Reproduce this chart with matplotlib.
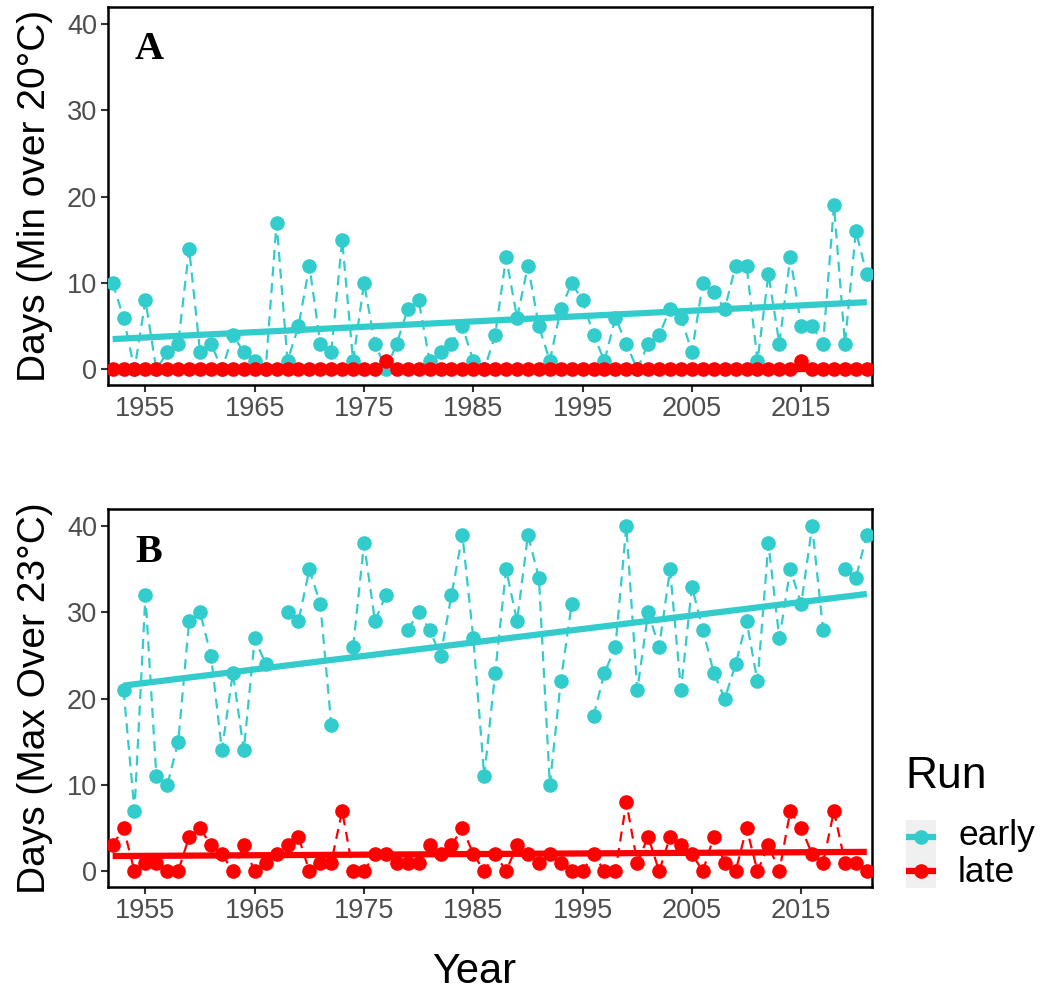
import matplotlib
matplotlib.use("Agg")
import matplotlib.pyplot as plt
from matplotlib.lines import Line2D
import numpy as np

plt.rcParams['font.family'] = ['Liberation Sans', 'DejaVu Sans']

years = np.arange(1952, 2022)
nan = np.nan

# panel A: days with min temp over 20C
early_min = [10, 6, 0, 8, 0, 2, 3, 14, 2, 3, 0, 4, 2, 1, 0, 17, 1, 5, 12, 3,
             2, 15, 1, 10, 3, 0, 3, 7, 8, 1, 2, 3, 5, 1, 0, 4, 13, 6, 12, 5,
             1, 7, 10, 8, 4, 1, 6, 3, 0, 3, 4, 7, 6, 2, 10, 9, 7, 12, 12, 1,
             11, 3, 13, 5, 5, 3, 19, 3, 16, 11]
late_min = [0] * 70
late_min[1977 - 1952] = 1
late_min[2015 - 1952] = 1

# panel B: days with max temp over 23C
early_max = [nan, 21, 7, 32, 11, 10, 15, 29, 30, 25, 14, 23, 14, 27, 24, nan, 30, 29, 35, 31,
             17, nan, 26, 38, 29, 32, nan, 28, 30, 28, 25, 32, 39, 27, 11, 23, 35, 29, 39, 34,
             10, 22, 31, nan, 18, 23, 26, 40, 21, 30, 26, 35, 21, 33, 28, 23, 20, 24, 29, 22,
             38, 27, 35, 31, 40, 28, nan, 35, 34, 39]
late_max = [3, 5, 0, 1, 1, 0, 0, 4, 5, 3, 2, 0, 3, 0, 1, 2, 3, 4, 0, 1,
            1, 7, 0, 0, 2, 2, 1, 1, 1, 3, 2, 3, 5, 2, 0, 2, 0, 3, 2, 1,
            2, 1, 0, 0, 2, 0, 0, 8, 1, 4, 0, 4, 3, 2, 0, 4, 1, 0, 5, 0,
            3, 0, 7, 5, 2, 1, 7, 1, 1, 0]

runs = ["early", "late"]
colors = {"early": "#33CCCC", "late": "#FF0000"}

fig = plt.figure(figsize=(10.43, 9.97), dpi=100)
axA = fig.add_axes([0.1038, 0.6138, 0.7325, 0.3795])
axB = fig.add_axes([0.1038, 0.1106, 0.7325, 0.3789])


def draw_panel(ax, series, letter, ylabel):
    for run, vals in zip(runs, series):
        y = np.array(vals, dtype=float)
        c = colors[run]
        ax.plot(years, y, ls=(0, (4.5, 3)), lw=1.6, color=c, zorder=2)
        ax.plot(years, y, 'o', ms=9.5, color=c, zorder=3)
        ok = ~np.isnan(y)
        k, b = np.polyfit(years[ok], y[ok], 1)
        xs = np.array([years[ok][0], years[ok][-1]])
        ax.plot(xs, k * xs + b, lw=4.5, color=c, zorder=2.5, solid_capstyle='butt')
    ax.set_xlim(1951.6, 2021.5)
    ax.set_ylim(-1.8, 42)
    ax.set_xticks(range(1955, 2021, 10))
    ax.set_yticks(range(0, 41, 10))
    ax.tick_params(labelsize=19.5, labelcolor='#4D4D4D', color='#333333',
                   length=5, width=1.5, pad=3)
    for s in ax.spines.values():
        s.set_linewidth(1.8)
    ax.text(0.035, 0.935, letter, transform=ax.transAxes, fontsize=29,
            fontweight='bold', family=['Liberation Serif', 'DejaVu Serif'],
            va='top', ha='left')
    ax.set_ylabel(ylabel, fontsize=28, labelpad=10)


draw_panel(axA, [early_min, late_min], "A", "Days (Min over 20°C)")
draw_panel(axB, [early_max, late_max], "B", "Days (Max Over 23°C)")

fig.text(0.455, 0.025, "Year", fontsize=30, ha='center', va='center')

# legend
fig.text(0.868, 0.221, "Run", fontsize=32, ha='left', va='center')
kax = fig.add_axes([906 / 1043, 1 - 888 / 997, 30 / 1043, 68 / 997])
kax.set_facecolor('#F0F0F0')
kax.set_xlim(0, 1)
kax.set_ylim(0, 2)
kax.set_xticks([])
kax.set_yticks([])
for s in kax.spines.values():
    s.set_visible(False)
for i, run in enumerate(runs):
    yk = 1.5 - i
    kax.add_line(Line2D([0.1, 0.9], [yk, yk], color=colors[run], lw=4.5))
    kax.plot(0.5, yk, 'o', ms=9.5, color=colors[run])
    fig.text(958 / 1043, 1 - (835 + i * 37) / 997, run, fontsize=25.5,
             ha='left', va='center')

fig.savefig("out.png", dpi=100)
